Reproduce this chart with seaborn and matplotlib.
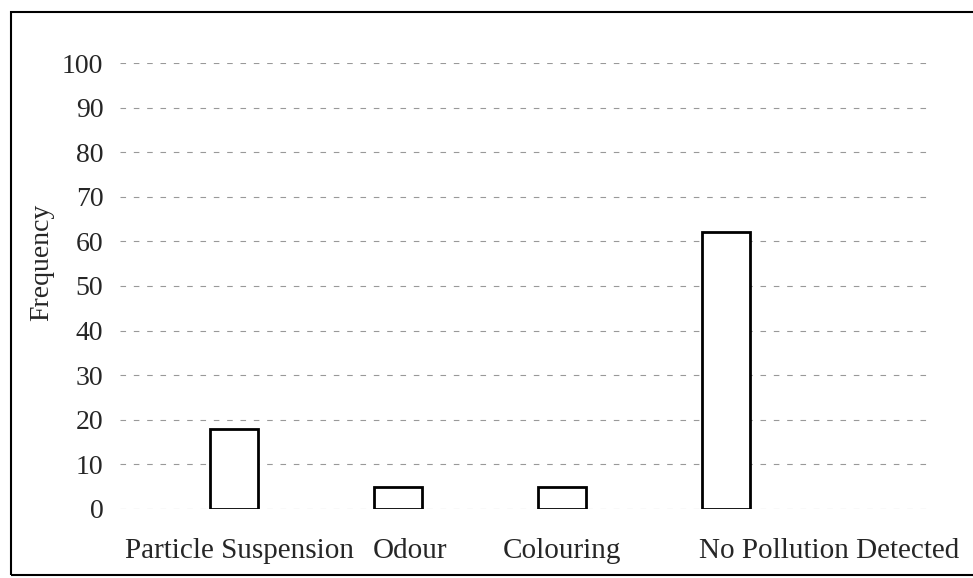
import matplotlib
matplotlib.use("Agg")
import matplotlib.pyplot as plt
from matplotlib.patches import Rectangle
from matplotlib.transforms import ScaledTranslation
import seaborn as sns
import pandas as pd

categories = ["Particle Suspension", "Odour", "Colouring", "No Pollution Detected"]
frequency = [18, 5, 5, 62]
y_ticks = [0, 10, 20, 30, 40, 50, 60, 70, 80, 90, 100]

df = pd.DataFrame({"Category": categories, "Frequency": frequency})

sns.set_style("white")
plt.rcParams["font.family"] = ["Liberation Serif", "DejaVu Serif"]

fig = plt.figure(figsize=(9.73, 5.78), dpi=100)
ax = fig.add_axes([0.1233, 0.1194, 0.8325, 0.7716])

sns.barplot(data=df, x="Category", y="Frequency", color="white",
            edgecolor="black", linewidth=2, width=0.29, ax=ax)

ax.set_ylim(0, 100)
ax.set_xlim(-0.695, 4.245)
ax.set_yticks(y_ticks)
ax.yaxis.grid(True, color="#999999", linestyle=(0, (5, 7)), linewidth=0.8)
ax.set_axisbelow(True)
for s in ax.spines.values():
    s.set_visible(False)

ax.tick_params(axis="y", length=0, pad=12, labelsize=20)
ax.tick_params(axis="x", length=0, pad=21, labelsize=21)
ax.set_xlabel("")
ax.set_ylabel("Frequency", fontsize=20)
ax.yaxis.set_label_coords(-0.081, 0.554)

# the category labels in the original sit a bit off their bars
shifts = [6, 12, 0, 103]  # pixels
for lab, dx in zip(ax.get_xticklabels(), shifts):
    lab.set_transform(lab.get_transform() + ScaledTranslation(dx / 100, 0, fig.dpi_scale_trans))

# frame round the whole picture
fig.patches.append(Rectangle((0.011, 0.005), 1.1, 0.975, transform=fig.transFigure,
                             fill=False, edgecolor="black", linewidth=1.5))

fig.savefig("out.png", dpi=100)
